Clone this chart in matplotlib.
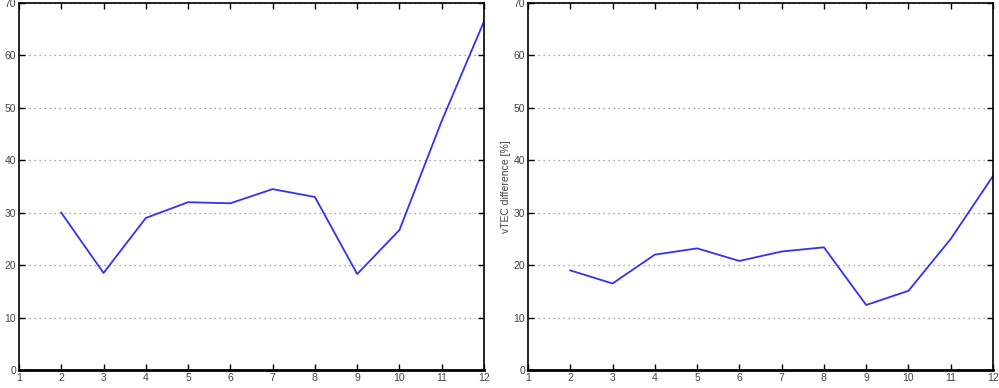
import matplotlib
matplotlib.use("Agg")
import matplotlib.pyplot as plt

plt.rcParams["font.family"] = ["Liberation Sans", "DejaVu Sans"]

x = [2, 3, 4, 5, 6, 7, 8, 9, 10, 11, 12]
left_vals = [30, 18.5, 29, 32, 31.8, 34.5, 33, 18.3, 26.7, 47.5, 66.5]
right_vals = [19, 16.5, 22, 23.2, 20.8, 22.6, 23.4, 12.4, 15.1, 25, 37]
xticks = list(range(1, 13))
yticks = list(range(0, 71, 10))

fig = plt.figure(figsize=(9.99, 3.88), dpi=100)
W, H = 999, 388
ax1 = fig.add_axes([19 / W, 1 - 370 / H, (484 - 19) / W, (370 - 3) / H])
ax2 = fig.add_axes([528 / W, 1 - 370 / H, (993 - 528) / W, (370 - 3) / H])

for ax, vals in ((ax1, left_vals), (ax2, right_vals)):
    ax.plot(x, vals, color="#3333ee", lw=1.3)
    ax.set_xlim(1, 12)
    ax.set_ylim(0, 70)
    ax.set_xticks(xticks)
    ax.set_yticks(yticks)
    ax.tick_params(direction="in", top=True, right=True, length=4, width=1,
                   labelsize=7.5, labelcolor="#444444", pad=2)
    ax.grid(axis="y", linestyle=(0, (1, 3)), color="#888888", lw=0.9)
    for s in ax.spines.values():
        s.set_linewidth(1.2)
    ax.spines["bottom"].set_linewidth(2)

ax2.set_ylabel("vTEC difference [%]", fontsize=7.5, color="#444444", labelpad=2)

fig.savefig("out.png", dpi=100)
